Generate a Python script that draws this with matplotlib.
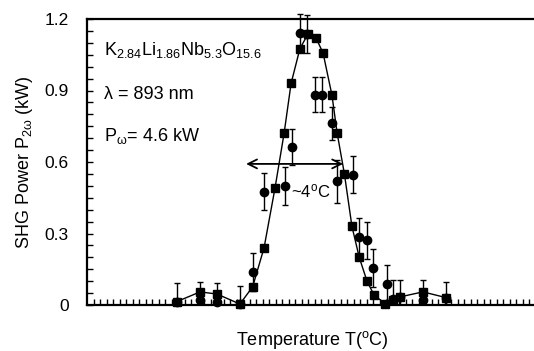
import numpy as np
import matplotlib.pyplot as plt
from matplotlib.patches import Rectangle

plt.rcParams['font.family'] = ['Liberation Sans', 'DejaVu Sans']
plt.rcParams['mathtext.fontset'] = 'custom'
plt.rcParams['mathtext.rm'] = 'Liberation Sans'
plt.rcParams['mathtext.it'] = 'Liberation Sans:italic'

# temperature in deg C (arbitrary offset, axis has no numeric labels)
sq_t = [3.45, 4.35, 5.0, 5.88, 6.37, 6.81, 7.23, 7.58, 7.85, 8.19, 8.5, 8.81,
        9.08, 9.42, 9.62, 9.9, 10.19, 10.47, 10.77, 11.04, 11.46, 11.78,
        12.04, 12.92, 13.81]
sq_p = [0.014, 0.055, 0.046, 0.004, 0.076, 0.24, 0.49, 0.72, 0.93, 1.076,
        1.137, 1.12, 1.057, 0.881, 0.722, 0.55, 0.33, 0.2, 0.1, 0.042,
        0.006, 0.021, 0.034, 0.055, 0.031]

ci_t = [3.45, 4.35, 5.0, 5.88, 6.37, 6.81, 7.62, 7.88, 8.19, 8.47, 8.75,
        9.04, 9.41, 9.62, 10.24, 10.47, 10.76, 11.01, 11.54, 11.78, 12.04,
        12.92, 13.81]
ci_p = [0.014, 0.021, 0.014, 0.004, 0.138, 0.475, 0.5, 0.663, 1.14, 1.137,
        0.883, 0.883, 0.762, 0.52, 0.546, 0.287, 0.271, 0.154, 0.088, 0.025,
        0.034, 0.021, 0.028]
ci_err = [0.08, 0.076, 0.077, 0.076, 0.079, 0.078, 0.08, 0.077, 0.08, 0.08,
          0.074, 0.074, 0.07, 0.09, 0.078, 0.08, 0.078, 0.079, 0.078, 0.08,
          0.07, 0.084, 0.07]

fig = plt.figure(figsize=(5.34, 3.51), dpi=100)
ax = fig.add_axes([87 / 534, 46 / 351, 446 / 534, 286 / 351])

ax.plot(sq_t, sq_p, color='black', lw=1.0, marker='s', ms=6,
        clip_on=False, zorder=3)

eb = ax.errorbar(ci_t, ci_p, yerr=ci_err, fmt='o', color='black', ms=6,
                 ecolor='black', elinewidth=1.0, capsize=2.5, capthick=1.0,
                 zorder=4)
# error bars may poke out above the frame, but not below the x axis
box = Rectangle((0, 0), 20, 1.26, transform=ax.transData)
eb[0].set_clip_on(False)
for art in list(eb[1]) + list(eb[2]):
    art.set_clip_path(box)

ax.set_xlim(0, 446 / 26)
ax.set_ylim(0, 1.2)
ax.set_yticks([0, 0.3, 0.6, 0.9, 1.2])
ax.set_yticklabels(['0', '0.3', '0.6', '0.9', '1.2'])
ax.set_yticks(np.arange(0, 1.2, 0.05), minor=True)
ax.set_xticks(np.arange(0.25, 446 / 26, 0.25), minor=True)
ax.set_xticks([])
ax.tick_params(axis='both', which='both', direction='in', length=4,
               width=1.0)
ax.tick_params(axis='y', which='major', labelsize=12.5, pad=13)
ax.tick_params(axis='x', which='minor', bottom=True, labelbottom=False)

for s in ['left', 'bottom', 'top']:
    ax.spines[s].set_linewidth(1.6)
ax.spines['right'].set_visible(False)

ax.set_ylabel(r'SHG Power P$_{\mathregular{2\omega}}$ (kW)', fontsize=13,
              labelpad=7)
ax.set_xlabel(r'Temperature T($^{\mathregular{o}}$C)', fontsize=13)
ax.xaxis.set_label_coords(0.505, -0.085)

ax.text(0.65, 1.07, r'K$_{\mathregular{2.84}}$Li$_{\mathregular{1.86}}$'
        r'Nb$_{\mathregular{5.3}}$O$_{\mathregular{15.6}}$',
        fontsize=13, va='center')
ax.text(0.65, 0.885, 'λ = 893 nm', fontsize=13, va='center')
ax.text(0.65, 0.71, r'P$_{\mathregular{\omega}}$= 4.6 kW', fontsize=13,
        va='center')

ax.annotate('', xy=(6.12, 0.592), xytext=(9.85, 0.592),
            arrowprops=dict(arrowstyle='<->', color='black', lw=1.3,
                            mutation_scale=16, shrinkA=0, shrinkB=0))
ax.text(8.6, 0.478, r'~4$^{\mathregular{o}}$C', fontsize=12, ha='center',
        va='center', zorder=5)

fig.savefig('out.png', dpi=100)
